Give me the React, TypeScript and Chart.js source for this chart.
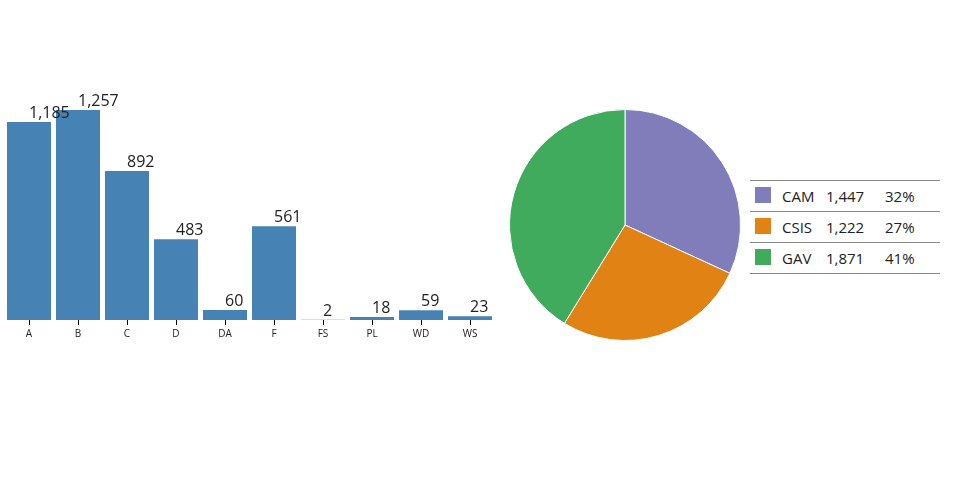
import React, { useEffect, useRef } from "react";
import { Chart, registerables } from "chart.js";

Chart.register(...registerables);

const barCategories = ["A", "B", "C", "D", "DA", "F", "FS", "PL", "WD", "WS"];
const barValues = [1185, 1257, 892, 483, 60, 561, 2, 18, 59, 23];

const pieLabels = ["CAM", "CSIS", "GAV"];
const pieValues = [1447, 1222, 1871];
const pieColors = ["#807dba", "#e08214", "#41ab5d"];
const barColor = "#4682b4";

const FONT = "'Open Sans', 'DejaVu Sans', sans-serif";

const valueLabelPlugin = {
  id: "valueLabels",
  afterDatasetsDraw(chart: any) {
    const ctx = chart.ctx;
    const meta = chart.getDatasetMeta(0);
    ctx.save();
    ctx.font = `16px ${FONT}`;
    ctx.fillStyle = "#222";
    ctx.textAlign = "left";
    ctx.textBaseline = "alphabetic";
    meta.data.forEach((el: any, i: number) => {
      ctx.fillText(barValues[i].toLocaleString("en-US"), el.x, el.y - 4);
    });
    ctx.restore();
  },
};

export default function App() {
  const barRef = useRef<HTMLCanvasElement>(null);
  const pieRef = useRef<HTMLCanvasElement>(null);

  useEffect(() => {
    const bar = new Chart(barRef.current!, {
      type: "bar",
      data: {
        labels: barCategories,
        datasets: [
          {
            data: barValues,
            backgroundColor: barColor,
            barPercentage: 0.898,
            categoryPercentage: 1,
          },
        ],
      },
      options: {
        animation: false,
        responsive: false,
        maintainAspectRatio: false,
        layout: { padding: { top: 110, left: 4.5, right: 5.5, bottom: 5 } },
        plugins: { legend: { display: false }, tooltip: { enabled: false } },
        scales: {
          x: {
            grid: {
              display: true,
              offset: false,
              drawOnChartArea: false,
              drawTicks: true,
              tickLength: 5,
              color: "#000",
            },
            border: { display: false },
            ticks: { font: { family: FONT, size: 10 }, color: "#222", padding: 3 },
          },
          y: {
            display: false,
            min: 0,
            max: Math.max(...barValues),
          },
        },
      },
      plugins: [valueLabelPlugin],
    });

    const pie = new Chart(pieRef.current!, {
      type: "pie",
      data: {
        labels: pieLabels,
        datasets: [
          {
            data: pieValues,
            backgroundColor: pieColors,
            borderColor: "#fff",
            borderWidth: 1,
          },
        ],
      },
      options: {
        animation: false,
        responsive: false,
        maintainAspectRatio: false,
        plugins: { legend: { display: false }, tooltip: { enabled: false } },
      },
    });

    return () => {
      bar.destroy();
      pie.destroy();
    };
  }, []);

  const total = pieValues.reduce((a, b) => a + b, 0);

  return (
    <div style={{ position: "fixed", left: 0, top: 0, width: 960, height: 500, background: "#fff" }}>
      <canvas ref={barRef} width={500} height={348} style={{ position: "absolute", left: 0, top: 0 }} />
      <canvas ref={pieRef} width={232} height={232} style={{ position: "absolute", left: 509, top: 109 }} />
      <div style={{ position: "absolute", left: 750, top: 180, width: 190, fontFamily: FONT, fontSize: 15, color: "#222" }}>
        <div style={{ borderTop: "1px solid #888" }} />
        {pieLabels.map((l, i) => (
          <div key={l} style={{ position: "relative", height: 30, borderBottom: "1px solid #888" }}>
            <div style={{ position: "absolute", left: 5, top: 6, width: 16, height: 16, background: pieColors[i] }} />
            <div style={{ position: "absolute", left: 32, top: 5, lineHeight: "20px" }}>{l}</div>
            <div style={{ position: "absolute", left: 76, top: 5, lineHeight: "20px" }}>{pieValues[i].toLocaleString("en-US")}</div>
            <div style={{ position: "absolute", left: 135, top: 5, lineHeight: "20px" }}>{Math.round((pieValues[i] / total) * 100)}%</div>
          </div>
        ))}
      </div>
    </div>
  );
}
